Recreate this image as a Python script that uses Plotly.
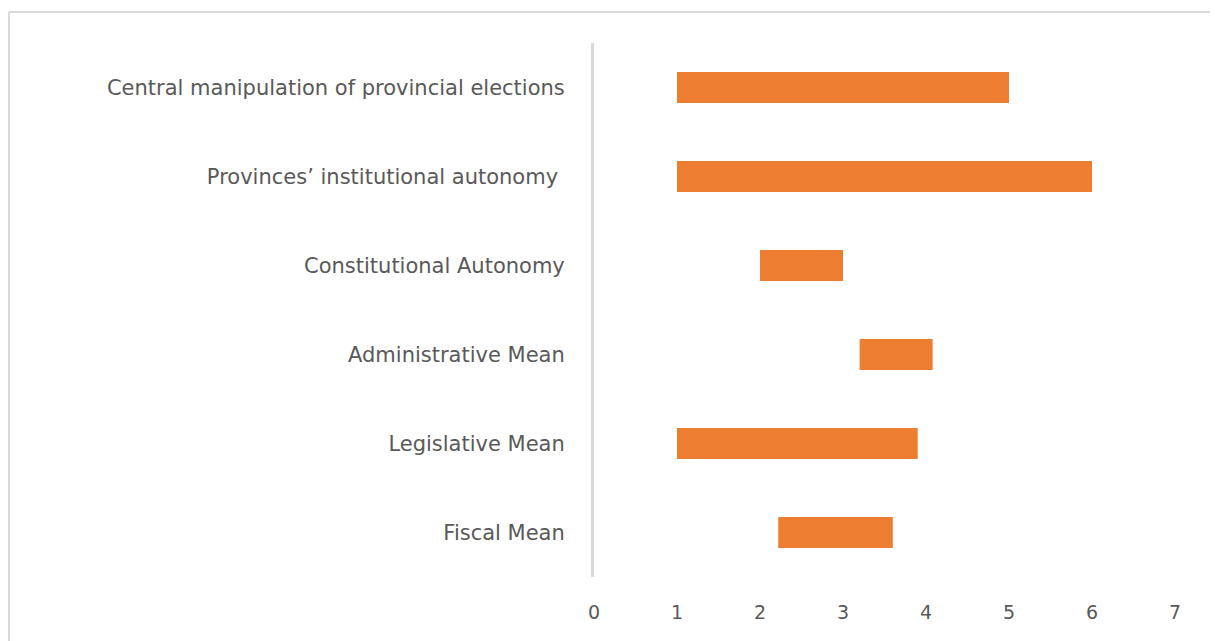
import plotly.graph_objects as go

categories = [
    "Central manipulation of provincial elections",
    "Provinces’ institutional autonomy\u00a0",
    "Constitutional Autonomy",
    "Administrative Mean",
    "Legislative Mean",
    "Fiscal Mean",
]
range_start = [1, 1, 2, 3.2, 1, 2.22]
range_end = [5, 6, 3, 4.08, 3.9, 3.6]
tick_values = [0, 1, 2, 3, 4, 5, 6, 7]

lengths = [e - s for s, e in zip(range_start, range_end)]

fig = go.Figure()
fig.add_trace(go.Bar(
    y=categories,
    x=lengths,
    base=range_start,
    orientation="h",
    marker=dict(color="#ED7D31", line=dict(width=0)),
    showlegend=False,
))

font_gray = "#595959"
border = dict(color="#d9d9d9", width=2)
fig.update_layout(
    width=1210,
    height=633,
    margin=dict(l=586, r=43, t=35, b=64),
    paper_bgcolor="white",
    plot_bgcolor="white",
    bargap=0.65,
    font=dict(family="DejaVu Sans", size=21, color=font_gray),
    xaxis=dict(
        range=[0, 7],
        tickvals=tick_values,
        showgrid=False,
        zeroline=False,
        showline=False,
        ticks="",
        ticklabelstandoff=22,
        tickfont=dict(family="DejaVu Sans", size=19, color=font_gray),
        fixedrange=True,
    ),
    yaxis=dict(
        autorange="reversed",
        showgrid=False,
        zeroline=False,
        showline=True,
        linecolor="#d9d9d9",
        linewidth=3,
        ticks="",
        ticklabelstandoff=22,
        tickfont=dict(family="DejaVu Sans", size=21, color=font_gray),
    ),
    shapes=[
        dict(type="line", xref="paper", yref="paper",
             x0=-1.007, x1=1.2, y0=1.058, y1=1.058, line=border, layer="below"),
        dict(type="line", xref="paper", yref="paper",
             x0=-1.007, x1=-1.007, y0=-0.3, y1=1.058, line=border, layer="below"),
    ],
)

fig.write_html("out.html")
